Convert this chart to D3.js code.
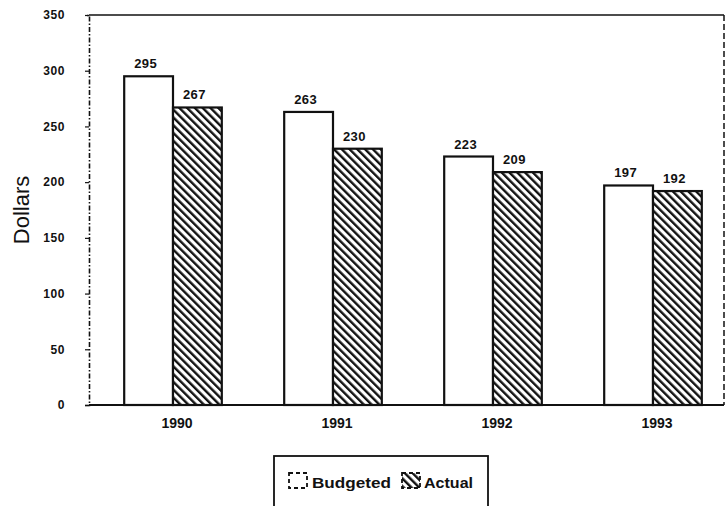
<!DOCTYPE html>
<html><head><meta charset="utf-8">
<script src="https://cdn.jsdelivr.net/npm/d3@7"></script>
<style>body{margin:0;background:#fff}svg{display:block}text{font-family:"Liberation Sans",Arial,sans-serif;fill:#111}</style>
</head><body>
<script>
const years = ["1990","1991","1992","1993"];
const budgeted = [295, 263, 223, 197];
const actual = [267, 230, 209, 192];
const series = ["Budgeted","Actual"];
const yTicks = [0,50,100,150,200,250,300,350];

(function(){
const W = 726, H = 506;
const svg = d3.select("body").append("svg").attr("width", W).attr("height", H);
const FF = "Liberation Sans, Arial, sans-serif";

const defs = svg.append("defs");
const pat = defs.append("pattern").attr("id","hatch").attr("patternUnits","userSpaceOnUse")
  .attr("width",5.5).attr("height",5.5).attr("patternTransform","rotate(-45)");
pat.append("rect").attr("width",5.5).attr("height",5.5).attr("fill","#fff");
pat.append("line").attr("x1",1).attr("y1",0).attr("x2",1).attr("y2",5.5)
  .attr("stroke","#111").attr("stroke-width",2.8);

const mL = 89, mR = 724, mT = 15, mB = 405;
const y = d3.scaleLinear().domain([0,350]).range([mB, mT]);
const x0 = d3.scaleBand().domain(years).range([93, 733]).paddingInner(0.39).paddingOuter(0.195);
const x1 = d3.scaleBand().domain(series).range([0, x0.bandwidth()]);

const rows = years.map((yr,i)=>({year:yr, vals:[{k:"Budgeted",v:budgeted[i]},{k:"Actual",v:actual[i]}]}));

// frame
svg.append("line").attr("x1",mL).attr("x2",mR).attr("y1",mT).attr("y2",mT).attr("stroke","#111").attr("stroke-width",1.6);
svg.append("line").attr("x1",mR).attr("x2",mR).attr("y1",mT).attr("y2",mB).attr("stroke","#111").attr("stroke-width",1.5).attr("stroke-dasharray","6,3");
svg.append("line").attr("x1",mL).attr("x2",mR).attr("y1",mB).attr("y2",mB).attr("stroke","#111").attr("stroke-width",1.8);

// y axis
const yAxis = svg.append("g").attr("transform",`translate(${mL},0)`)
  .call(d3.axisLeft(y).tickValues(yTicks).tickSize(4).tickPadding(20));
yAxis.select(".domain").attr("stroke","#111").attr("stroke-width",1.6).attr("stroke-dasharray","5,2,1.5,2");
yAxis.selectAll(".tick line").attr("stroke","#111").attr("stroke-width",1.2);
yAxis.selectAll(".tick text").attr("font-size",12).attr("font-weight","bold").attr("letter-spacing",0.6)
  .style("font-family",FF).attr("fill","#111");

svg.append("text").attr("transform",`translate(29,210) rotate(-90)`).attr("text-anchor","middle")
  .attr("font-size",22).text("Dollars");

// x axis labels
const xAxis = svg.append("g").attr("transform",`translate(0,${mB})`)
  .call(d3.axisBottom(x0).tickSize(0).tickPadding(13));
xAxis.select(".domain").remove();
xAxis.selectAll(".tick text").attr("font-size",14).attr("font-weight","bold").attr("dx",4)
  .style("font-family",FF).attr("fill","#111");

// bars
const g = svg.selectAll(".grp").data(rows).enter().append("g").attr("transform",d=>`translate(${x0(d.year)},0)`);
g.selectAll("rect").data(d=>d.vals).enter().append("rect")
  .attr("x",d=>x1(d.k)).attr("width",x1.bandwidth())
  .attr("y",d=>y(d.v)).attr("height",d=>mB-y(d.v))
  .attr("fill",d=>d.k==="Budgeted"?"#fff":"url(#hatch)")
  .attr("stroke","#111").attr("stroke-width",2.2);
g.selectAll("text").data(d=>d.vals).enter().append("text")
  .attr("x",d=>x1(d.k)+x1.bandwidth()/2-3).attr("y",d=>y(d.v)-8)
  .attr("text-anchor","middle").attr("font-size",13).attr("font-weight","bold").attr("letter-spacing",0.4).text(d=>d.v);

// legend
const lg = svg.append("g");
lg.append("rect").attr("x",274).attr("y",456).attr("width",214).attr("height",60).attr("fill","#fff").attr("stroke","#111").attr("stroke-width",1.8);
const items = [{k:"Budgeted",ix:289,tx:312,tw:79},{k:"Actual",ix:402,tx:424,tw:49}];
items.forEach(it=>{
  lg.append("rect").attr("x",it.ix).attr("y",473).attr("width",18).attr("height",15)
    .attr("fill",it.k==="Budgeted"?"#fff":"url(#hatch)").attr("stroke","#111").attr("stroke-width",1.8).attr("stroke-dasharray","4,3");
  lg.append("text").attr("x",it.tx).attr("y",488).attr("font-size",15).attr("font-weight","bold")
    .attr("textLength",it.tw).attr("lengthAdjust","spacingAndGlyphs").text(it.k);
});
})();
</script>
</body></html>
